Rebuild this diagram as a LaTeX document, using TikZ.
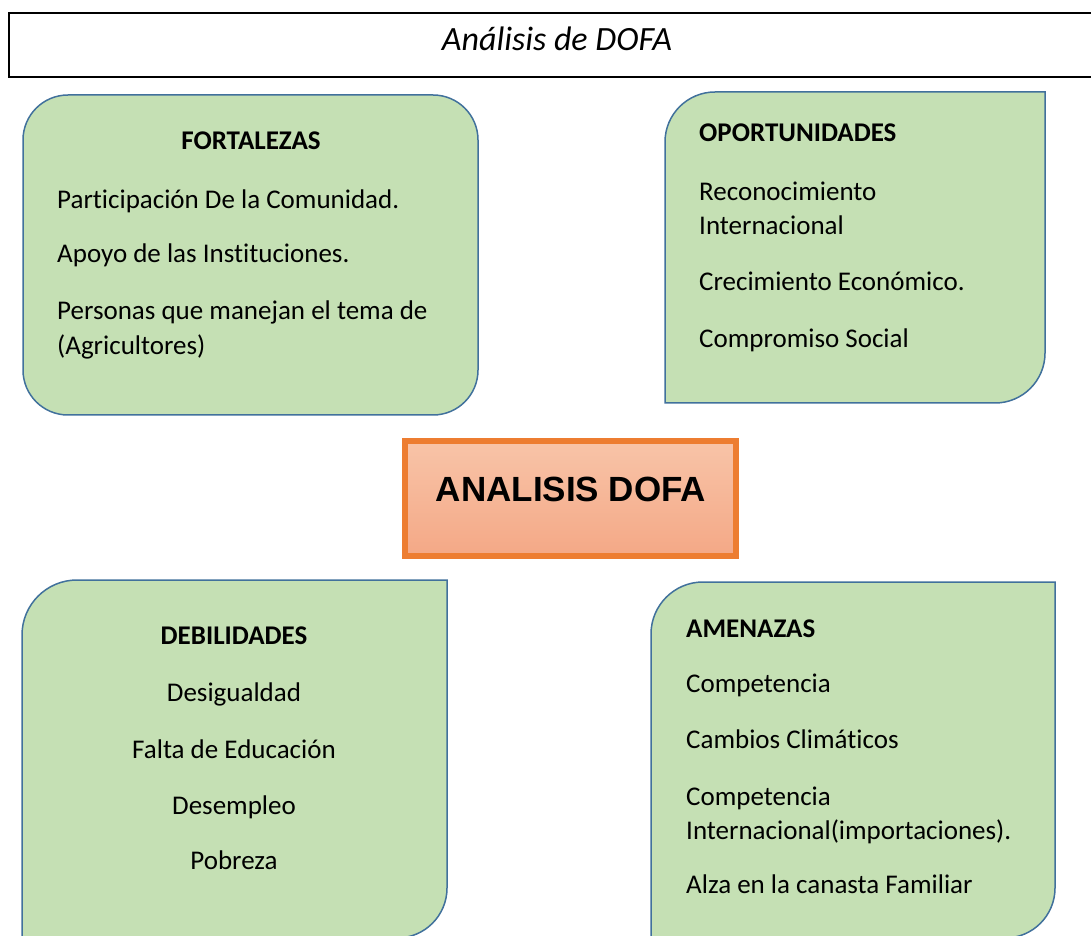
\documentclass[tikz,border=0pt]{standalone}
\usepackage{fontspec}
\setmainfont[Ligatures=NoCommon]{Carlito}
\newfontfamily\arialfont{Liberation Sans}
\usetikzlibrary{positioning,calc}

\definecolor{boxgreen}{HTML}{C5E0B4}
\definecolor{boxblue}{HTML}{41719C}
\definecolor{dofaorange}{HTML}{ED7D31}
\definecolor{dofatop}{HTML}{F8C4A8}
\definecolor{dofabot}{HTML}{F4A886}

\begin{document}
\begin{tikzpicture}[x=1pt,y=1pt]

\tikzset{greenbox/.style={fill=boxgreen,draw=boxblue,line width=1.5pt},
         frame/.style={draw=none,inner sep=0,outer sep=0},
         item/.style={anchor=base west,inner sep=0,font=\fontsize{27}{37}\selectfont},
         head/.style={item,font=\fontsize{27}{37}\selectfont\bfseries},
         citem/.style={item,anchor=base}}

\useasboundingbox (0,0) rectangle (1091,935);
\fill[white] (0,0) rectangle (1091,935);

%title
\node [draw=black,line width=1.5pt,minimum width=1091,minimum height=64,inner sep=0] (titlebox) at (554.5,890) {};
\node [anchor=base,inner sep=0,font=\fontsize{34}{40}\selectfont\itshape] (title) at (557,884) {Análisis de DOFA};

%fortalezas
\node [greenbox,rounded corners=45,minimum width=455,minimum height=320,inner sep=0] (fort) at (250.5,680) {};
\node [head,anchor=base] (forth) at (251,785) {FORTALEZAS};
\node [item] (forta) at (57,726) {Participación De la Comunidad.};
\node [item] (fortb) at (57,672) {Apoyo de las Instituciones.};
\node [item] (fortc) at (57,615) {Personas que manejan el tema de};
\node [item] (fortd) at (57,580) {(Agricultores)};

%oportunidades
\node [frame,minimum width=380,minimum height=311] (opor) at (855,687.5) {};
\path [greenbox] (opor.south west) -- ($(opor.north west)+(0,-50)$) arc[start angle=180,end angle=90,radius=50]
      -- (opor.north east) -- ($(opor.south east)+(0,50)$) arc[start angle=0,end angle=-90,radius=50] -- cycle;
\node [head] (oporh) at (699,793) {OPORTUNIDADES};
\node [item] (opora) at (699,734) {Reconocimiento};
\node [item] (oporb) at (699,700) {Internacional};
\node [item] (oporc) at (699,644) {Crecimiento Económico.};
\node [item] (opord) at (699,587) {Compromiso Social};

%analisis dofa
\node [draw=dofaorange,line width=6pt,top color=dofatop,bottom color=dofabot,minimum width=331,minimum height=115,inner sep=0] (dofa) at (570.5,436.5) {};
\node [anchor=base,inner sep=0,font=\arialfont\bfseries\fontsize{35}{40}\selectfont] (dofat) at (571,433) {ANALISIS DOFA};

%debilidades
\node [frame,minimum width=425,minimum height=358] (debi) at (234.5,176) {};
\path [greenbox] (debi.south west) -- ($(debi.north west)+(0,-55)$) arc[start angle=180,end angle=90,radius=55]
      -- (debi.north east) -- ($(debi.south east)+(0,50)$) arc[start angle=0,end angle=-90,radius=50] -- cycle;
\node [head,anchor=base] (debih) at (234,291) {DEBILIDADES};
\node [citem] (debia) at (234,234) {Desigualdad};
\node [citem] (debib) at (234,177) {Falta de Educación};
\node [citem] (debic) at (234,121) {Desempleo};
\node [citem] (debid) at (234,66) {Pobreza};

%amenazas
\node [frame,minimum width=404,minimum height=356] (amen) at (853,175) {};
\path [greenbox] (amen.south west) -- ($(amen.north west)+(0,-52)$) arc[start angle=180,end angle=90,radius=52]
      -- (amen.north east) -- ($(amen.south east)+(0,50)$) arc[start angle=0,end angle=-90,radius=50] -- cycle;
\node [head] (amenh) at (686,298) {AMENAZAS};
\node [item] (amena) at (686,243) {Competencia};
\node [item] (amenb) at (686,187) {Cambios Climáticos};
\node [item] (amenc) at (686,130) {Competencia};
\node [item] (amend) at (686,96) {Internacional(importaciones).};
\node [item] (amene) at (686,42) {Alza en la canasta Familiar};

\end{tikzpicture}
\end{document}
